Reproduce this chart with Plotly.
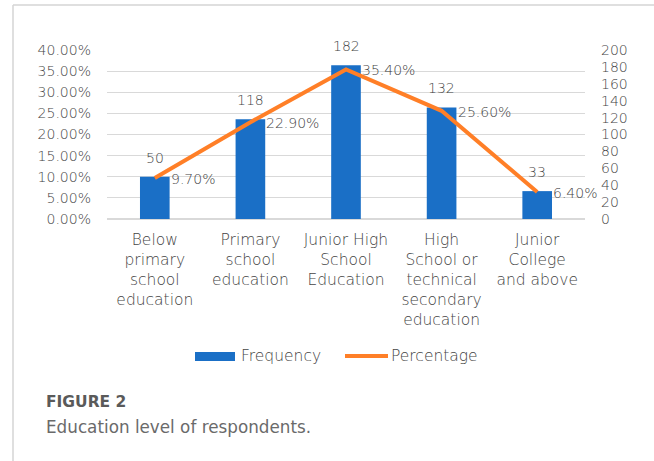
import plotly.graph_objects as go

# Education level of survey respondents
categories = [
    "Below<br>primary<br>school<br>education",
    "Primary<br>school<br>education",
    "Junior High<br>School<br>Education",
    "High<br>School or<br>technical<br>secondary<br>education",
    "Junior<br>College<br>and above",
]
frequency = [50, 118, 182, 132, 33]
percentage = [0.097, 0.229, 0.354, 0.256, 0.064]

BLUE = "#1A6FC6"
ORANGE = "#FF7F27"
TEXT = "#444444"
GRID = "#D9D9D9"
FONT = "DejaVu Sans"
WEIGHT = 200
NUM = dict(family=FONT, size=14, color=TEXT, weight=WEIGHT)
WORD = dict(family=FONT, size=15.5, color=TEXT, weight=WEIGHT)

W, H = 654, 461
L, R, T, B = 107, 585, 50, 219  # plot area in pixels


def px_x(x):
    return (x - L) / (R - L)


def px_y(y):
    return (B - y) / (B - T)


fig = go.Figure()

# Frequency bars on the count axis (right side)
fig.add_trace(go.Bar(
    x=categories, y=frequency, name="Frequency",
    marker=dict(color=BLUE, line=dict(width=0)),
    width=0.31, yaxis="y", showlegend=False,
))

# Percentage line on the percent axis (left side), drawn above the bars
fig.add_trace(go.Scatter(
    x=categories, y=percentage, name="Percentage",
    mode="lines", line=dict(color=ORANGE, width=4),
    yaxis="y2", showlegend=False,
))

annotations = []
for c, f in zip(categories, frequency):
    annotations.append(dict(
        x=c, y=f, xref="x", yref="y", text=str(f), showarrow=False,
        yanchor="bottom", yshift=9, font=NUM,
    ))
for c, p in zip(categories, percentage):
    annotations.append(dict(
        x=c, y=p, xref="x", yref="y2", text=f"{p * 100:.2f}%", showarrow=False,
        xanchor="left", yanchor="middle", xshift=14, yshift=-1, font=NUM,
    ))

# Legend
annotations += [
    dict(x=px_x(239), y=px_y(356), xref="paper", yref="paper", text="Frequency",
         showarrow=False, xanchor="left", yanchor="middle", font=WORD),
    dict(x=px_x(389), y=px_y(356), xref="paper", yref="paper", text="Percentage",
         showarrow=False, xanchor="left", yanchor="middle", font=WORD),
]

# Caption
annotations += [
    dict(x=px_x(44), y=px_y(402), xref="paper", yref="paper", text="<b>FIGURE 2</b>",
         showarrow=False, xanchor="left", yanchor="middle",
         font=dict(family="DejaVu Sans", size=15.5, color="#5A5A5A")),
    dict(x=px_x(44), y=px_y(426.5), xref="paper", yref="paper",
         text="Education level of respondents.",
         showarrow=False, xanchor="left", yanchor="middle",
         font=dict(family="DejaVu Sans", size=16.8, color="#6A6A6A")),
]

shapes = [
    # card border (left and top edges)
    dict(type="line", xref="paper", yref="paper",
         x0=px_x(13), x1=px_x(13), y0=px_y(5), y1=px_y(H),
         line=dict(color="#D4D4D4", width=1.5)),
    dict(type="line", xref="paper", yref="paper",
         x0=px_x(13), x1=px_x(W), y0=px_y(5), y1=px_y(5),
         line=dict(color="#D4D4D4", width=1.5)),
    # legend keys
    dict(type="rect", xref="paper", yref="paper",
         x0=px_x(195), x1=px_x(235), y0=px_y(361), y1=px_y(352),
         fillcolor=BLUE, line=dict(width=0)),
    dict(type="line", xref="paper", yref="paper",
         x0=px_x(345), x1=px_x(388), y0=px_y(356), y1=px_y(356),
         line=dict(color=ORANGE, width=4)),
]

fig.update_layout(
    width=W, height=H,
    margin=dict(l=L, r=W - R, t=T, b=H - B),
    paper_bgcolor="white", plot_bgcolor="white",
    font=dict(family=FONT, size=15, color=TEXT),
    xaxis=dict(
        type="category", range=[-0.5, 4.5], showgrid=False, showline=False,
        ticks="", tickfont=WORD, tickangle=0, ticklabelstandoff=9,
    ),
    yaxis=dict(
        side="right", range=[0, 200], dtick=20, showgrid=False, zeroline=False,
        showline=False, ticks="", tickfont=NUM, ticklabelstandoff=15,
    ),
    yaxis2=dict(
        overlaying="y", side="left", range=[0, 0.40], dtick=0.05, tickformat=".2%",
        showgrid=True, gridcolor=GRID, gridwidth=1, zeroline=True, zerolinecolor=GRID,
        showline=False, ticks="", tickfont=NUM, ticklabelstandoff=15,
    ),
    annotations=annotations,
    shapes=shapes,
    showlegend=False,
)

fig.write_html("out.html")
